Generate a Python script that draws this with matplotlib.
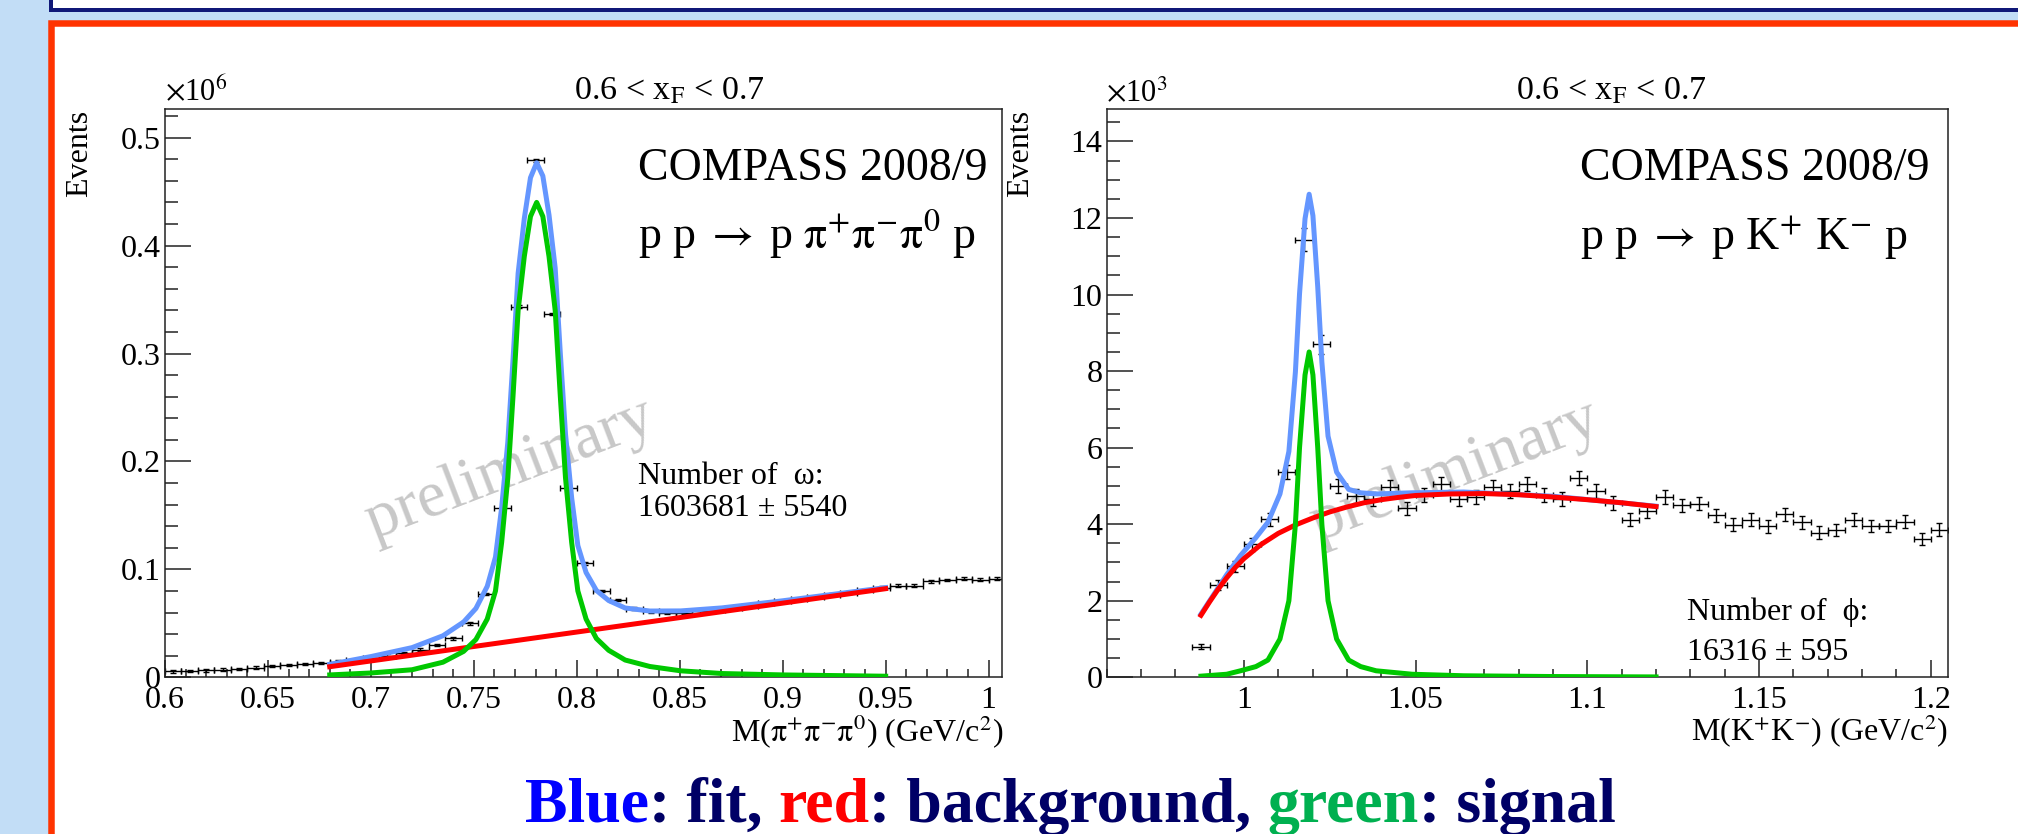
import matplotlib
matplotlib.use("Agg")
import matplotlib.pyplot as plt
from matplotlib.patches import Rectangle
from matplotlib.ticker import FixedLocator, MultipleLocator, FuncFormatter

plt.rcParams['font.family'] = ['Liberation Serif', 'DejaVu Serif']
plt.rcParams['mathtext.fontset'] = 'stix'

# ---------------- data: omega panel (units 10^6 events) ----------------
omega_mass = [0.604, 0.612, 0.620, 0.628, 0.636, 0.644, 0.652, 0.660, 0.668, 0.676,
              0.684, 0.692, 0.700, 0.708, 0.716, 0.724, 0.732, 0.740, 0.748, 0.756,
              0.764, 0.772, 0.780, 0.788, 0.796, 0.804, 0.812, 0.820, 0.828, 0.836,
              0.844, 0.852, 0.860, 0.868, 0.876, 0.884, 0.892, 0.900, 0.908, 0.916,
              0.924, 0.932, 0.940, 0.948, 0.956, 0.964, 0.972, 0.980, 0.988, 0.996,
              1.004]
omega_events = [0.0055, 0.0060, 0.0065, 0.0070, 0.0078, 0.0090, 0.0105, 0.0113, 0.0122, 0.0132,
                0.0145, 0.0160, 0.0180, 0.0200, 0.0225, 0.0255, 0.0300, 0.0360, 0.0500, 0.0770,
                0.1565, 0.3435, 0.4790, 0.3365, 0.1750, 0.1055, 0.0800, 0.0715, 0.0635, 0.0610,
                0.0600, 0.0600, 0.0610, 0.0625, 0.0645, 0.0665, 0.0685, 0.0705, 0.0725, 0.0745,
                0.0765, 0.0785, 0.0810, 0.0830, 0.0850, 0.0850, 0.0890, 0.0900, 0.0915, 0.0905,
                0.0915]
omega_bin_half = 0.004
omega_err = 0.0012

omega_curve_x = [0.680, 0.700, 0.720, 0.735, 0.745, 0.751, 0.7565, 0.7605, 0.7635, 0.7665,
                 0.769, 0.7715, 0.7745, 0.7775, 0.7805, 0.7835, 0.7865, 0.7895, 0.792, 0.7945,
                 0.7975, 0.8005, 0.8045, 0.8095, 0.8155, 0.8235, 0.8355, 0.8505, 0.8705, 0.900,
                 0.950]
omega_signal = [0.0022, 0.0040, 0.0070, 0.0140, 0.0240, 0.0350, 0.0540, 0.0800, 0.1250, 0.1850,
                0.2600, 0.3400, 0.3900, 0.4270, 0.4400, 0.4270, 0.3900, 0.3400, 0.2600, 0.1850,
                0.1250, 0.0800, 0.0540, 0.0360, 0.0250, 0.0160, 0.0100, 0.0060, 0.0035, 0.0022,
                0.0010]
omega_fit = [0.0120, 0.0192, 0.0275, 0.0385, 0.0512, 0.0638, 0.0843, 0.1114, 0.1572, 0.2180,
             0.2936, 0.3743, 0.4251, 0.4629, 0.4767, 0.4645, 0.4283, 0.3791, 0.2998, 0.2255,
             0.1663, 0.1221, 0.0971, 0.0805, 0.0711, 0.0642, 0.0614, 0.0615, 0.0643, 0.0709,
             0.0831]
omega_bg_x = [0.680, 0.950]
omega_bg = [0.0098, 0.0821]

# ---------------- data: phi panel (units 10^3 events) ----------------
phi_mass = [0.9875, 0.9925, 0.9975, 1.0025, 1.0075, 1.0125, 1.0175, 1.0225, 1.0275, 1.0325,
            1.0375, 1.0425, 1.0475, 1.0525, 1.0575, 1.0625, 1.0675, 1.0725, 1.0775, 1.0825,
            1.0875, 1.0925, 1.0975, 1.1025, 1.1075, 1.1125, 1.1175, 1.1225, 1.1275, 1.1325,
            1.1375, 1.1425, 1.1475, 1.1525, 1.1575, 1.1625, 1.1675, 1.1725, 1.1775, 1.1825,
            1.1875, 1.1925, 1.1975, 1.2025]
phi_events = [0.80, 2.40, 2.90, 3.47, 4.13, 5.36, 11.43, 8.70, 5.00, 4.74,
              4.65, 4.97, 4.42, 4.77, 5.04, 4.66, 4.72, 4.97, 4.86, 5.05,
              4.77, 4.66, 5.21, 4.86, 4.55, 4.12, 4.34, 4.71, 4.50, 4.54,
              4.23, 3.99, 4.12, 3.95, 4.26, 4.05, 3.78, 3.85, 4.12, 3.95,
              3.95, 4.07, 3.61, 3.86]
phi_err = [0.07, 0.13, 0.15, 0.16, 0.17, 0.19, 0.30, 0.25, 0.18, 0.18,
           0.18, 0.18, 0.17, 0.18, 0.18, 0.18, 0.18, 0.18, 0.18, 0.18,
           0.18, 0.18, 0.19, 0.18, 0.18, 0.17, 0.17, 0.18, 0.17, 0.17,
           0.17, 0.17, 0.17, 0.17, 0.17, 0.17, 0.16, 0.16, 0.17, 0.16,
           0.16, 0.17, 0.16, 0.16]
phi_bin_half = 0.0025

phi_curve_x = [0.9875, 0.995, 0.999, 1.0035, 1.007, 1.0105, 1.0131, 1.015, 1.0162, 1.0178,
               1.019, 1.0201, 1.0215, 1.0227, 1.0245, 1.027, 1.0305, 1.034, 1.0385, 1.049,
               1.064, 1.09, 1.12]
phi_signal = [0.03, 0.08, 0.17, 0.28, 0.45, 1.00, 2.00, 4.00, 6.00, 7.90,
              8.50, 7.90, 6.00, 4.00, 2.00, 1.00, 0.45, 0.28, 0.17, 0.08,
              0.04, 0.02, 0.01]
phi_fit = [1.65, 2.68, 3.18, 3.65, 4.05, 4.79, 5.90, 7.98, 10.02, 11.98,
           12.62, 12.06, 10.20, 8.24, 6.30, 5.36, 4.91, 4.82, 4.79, 4.82,
           4.84, 4.73, 4.47]
phi_bg_x = [0.9875, 0.990, 0.9925, 0.995, 0.9975, 1.000, 1.005, 1.010, 1.015, 1.020,
            1.025, 1.030, 1.035, 1.040, 1.045, 1.050, 1.060, 1.070, 1.080, 1.090,
            1.100, 1.110, 1.120]
phi_bg = [1.62, 1.97, 2.30, 2.60, 2.87, 3.10, 3.47, 3.76, 3.98, 4.16,
          4.32, 4.45, 4.56, 4.64, 4.70, 4.75, 4.79, 4.80, 4.77, 4.71,
          4.64, 4.56, 4.46]

omega_xticks = [0.6, 0.65, 0.7, 0.75, 0.8, 0.85, 0.9, 0.95, 1.0]
omega_yticks = [0, 0.1, 0.2, 0.3, 0.4, 0.5]
phi_xticks = [1.0, 1.05, 1.1, 1.15, 1.2]
phi_yticks = [0, 2, 4, 6, 8, 10, 12, 14]

# ---------------- colours ----------------
LIGHT_BLUE = '#C2DDF6'
NAVY = '#101878'
FRAME_RED = '#FF3300'
FIT_BLUE = '#6496FF'
BG_RED = '#FF0000'
SIG_GREEN = '#00C800'
CAPTION_NAVY = '#000066'

W, H, DPI = 2018, 834, 100
fig = plt.figure(figsize=(W / DPI, H / DPI), dpi=DPI)
fig.patch.set_facecolor(LIGHT_BLUE)


def fx(x):
    return x / W


def fy(y):
    return 1 - y / H


PT = 72.0 / DPI  # points per pixel

# slide frames
fig.add_artist(Rectangle((fx(50.5), fy(10)), (W + 60 - 50.5) / W, 70 / H,
                         transform=fig.transFigure, facecolor='white',
                         edgecolor=NAVY, linewidth=4 * PT, zorder=-2))
fig.add_artist(Rectangle((fx(51), fy(H + 60)), (W + 60 - 51) / W, (H + 60 - 22.5) / H,
                         transform=fig.transFigure, facecolor='white',
                         edgecolor=FRAME_RED, linewidth=6.5 * PT, zorder=-1))

TOP, BOT = 108.5, 677.3
axL = fig.add_axes([fx(165), fy(BOT), (1002 - 165) / W, (BOT - TOP) / H])
axR = fig.add_axes([fx(1106.5), fy(BOT), (1948 - 1106.5) / W, (BOT - TOP) / H])

fmt = FuncFormatter(lambda v, p: f'{v:g}')


def style(ax, xt, yt, xminor, yminor, xlim, ylim):
    ax.set_xlim(*xlim)
    ax.set_ylim(*ylim)
    ax.patch.set_alpha(0)
    ax.xaxis.set_major_locator(FixedLocator(xt))
    ax.yaxis.set_major_locator(FixedLocator(yt))
    ax.xaxis.set_minor_locator(MultipleLocator(xminor))
    ax.yaxis.set_minor_locator(MultipleLocator(yminor))
    ax.xaxis.set_major_formatter(fmt)
    ax.yaxis.set_major_formatter(fmt)
    for s in ax.spines.values():
        s.set_linewidth(1.1)
        s.set_color('#222222')
    ax.tick_params(axis='both', which='both', direction='in', top=False, right=False,
                   width=1.1, color='#222222', labelsize=23)
    ax.tick_params(axis='x', which='major', length=12, pad=6)
    ax.tick_params(axis='x', which='minor', length=6)
    ax.tick_params(axis='y', which='major', length=19, pad=3)
    ax.tick_params(axis='y', which='minor', length=9.5)


style(axL, omega_xticks, omega_yticks, 0.01, 0.02, (0.6, 1.0065), (0, 0.527))
style(axR, phi_xticks, phi_yticks, 0.01, 0.5, (0.96, 1.205), (0, 14.86))

LW = 5 * PT
# omega panel
axL.errorbar(omega_mass, omega_events, xerr=omega_bin_half, yerr=omega_err, fmt='none',
             ecolor='black', elinewidth=1.0, capsize=2.2, capthick=1.0, zorder=2)
axL.plot(omega_curve_x, omega_fit, color=FIT_BLUE, lw=LW, zorder=3, solid_joinstyle='round')
axL.plot(omega_bg_x, omega_bg, color=BG_RED, lw=LW, zorder=4)
axL.plot(omega_curve_x, omega_signal, color=SIG_GREEN, lw=LW, zorder=5, solid_joinstyle='round')

# phi panel
axR.errorbar(phi_mass, phi_events, xerr=phi_bin_half, yerr=phi_err, fmt='none',
             ecolor='black', elinewidth=1.0, capsize=2.2, capthick=1.0, zorder=2)
axR.plot(phi_curve_x, phi_fit, color=FIT_BLUE, lw=LW, zorder=3, solid_joinstyle='round')
axR.plot(phi_bg_x, phi_bg, color=BG_RED, lw=LW, zorder=4, solid_joinstyle='round')
axR.plot(phi_curve_x, phi_signal, color=SIG_GREEN, lw=LW, zorder=5, solid_joinstyle='round')

# watermarks
for ax, cx, cy in ((axL, 510, 470), (axR, 1455, 472)):
    ax.text(fx(cx), fy(cy), 'preliminary', transform=fig.transFigure, fontsize=47,
            color='#C8C8C8', rotation=21, rotation_mode='anchor', ha='center', va='center',
            zorder=1, clip_on=False)


def ftext(x, y, s, **kw):
    return fig.text(fx(x), fy(y), s, **kw)


# titles, exponents, y titles
for x0 in (574, 1516):
    ftext(x0, 99, r'0.6 < x$_{\mathrm{F}}$ < 0.7', fontsize=24.5, ha='left', va='baseline')
ftext(165, 101, r'$\times$10$^{6}$', fontsize=22, ha='left', va='baseline')
ftext(1106.5, 101, r'$\times$10$^{3}$', fontsize=22, ha='left', va='baseline')
for xc in (80, 1021):
    ftext(xc, 110, 'Events', fontsize=23, rotation=90, ha='center', va='top')

# x titles
ftext(1003, 741, r'M($\mathrm{\pi^{+}\pi^{-}\pi^{0}}$) (GeV/c$^{2}$)', fontsize=23,
      ha='right', va='baseline')
ftext(1948, 741, r'M(K$^{+}$K$^{-}$) (GeV/c$^{2}$)', fontsize=23, ha='right', va='baseline')

# panel labels
ftext(638, 180, 'COMPASS 2008/9', fontsize=33, ha='left', va='baseline')
ftext(638, 250, r'p p$\;\rightarrow\;$p $\mathrm{\pi^{+}\pi^{-}\pi^{0}}$ p', fontsize=33,
      ha='left', va='baseline')
ftext(1580, 180, 'COMPASS 2008/9', fontsize=33, ha='left', va='baseline')
ftext(1580, 250, r'p p$\;\rightarrow\;$p K$^{+}$ K$^{-}$ p', fontsize=33,
      ha='left', va='baseline')

ftext(638, 484, 'Number of  ω:', fontsize=23, ha='left', va='baseline')
ftext(638, 516, '1603681 ± 5540', fontsize=23, ha='left', va='baseline')
ftext(1687, 620, 'Number of  ϕ:', fontsize=23, ha='left', va='baseline')
ftext(1687, 660, '16316 ± 595', fontsize=23, ha='left', va='baseline')

# caption with coloured words
pieces = [("Blue", '#0000FF'), (": fit, ", CAPTION_NAVY), ("red", '#FF0000'),
          (": background, ", CAPTION_NAVY), ("green", '#00B050'), (": signal", CAPTION_NAVY)]
renderer = fig.canvas.get_renderer()
cap_kw = dict(fontsize=46, fontweight='bold', ha='left', va='baseline')
probe = fig.text(0, 0, '|', **cap_kw)
bar_w = probe.get_window_extent(renderer).width
widths = []
for s, c in pieces:
    t = fig.text(0, 0, s + '|', **cap_kw)
    widths.append(t.get_window_extent(renderer).width - bar_w)
    t.remove()
probe.remove()
total = sum(widths)
x = 1070 - total / 2
for (s, c), w in zip(pieces, widths):
    ftext(x, 822, s, color=c, **cap_kw)
    x += w

fig.savefig('out.png', dpi=DPI, facecolor=fig.get_facecolor())
